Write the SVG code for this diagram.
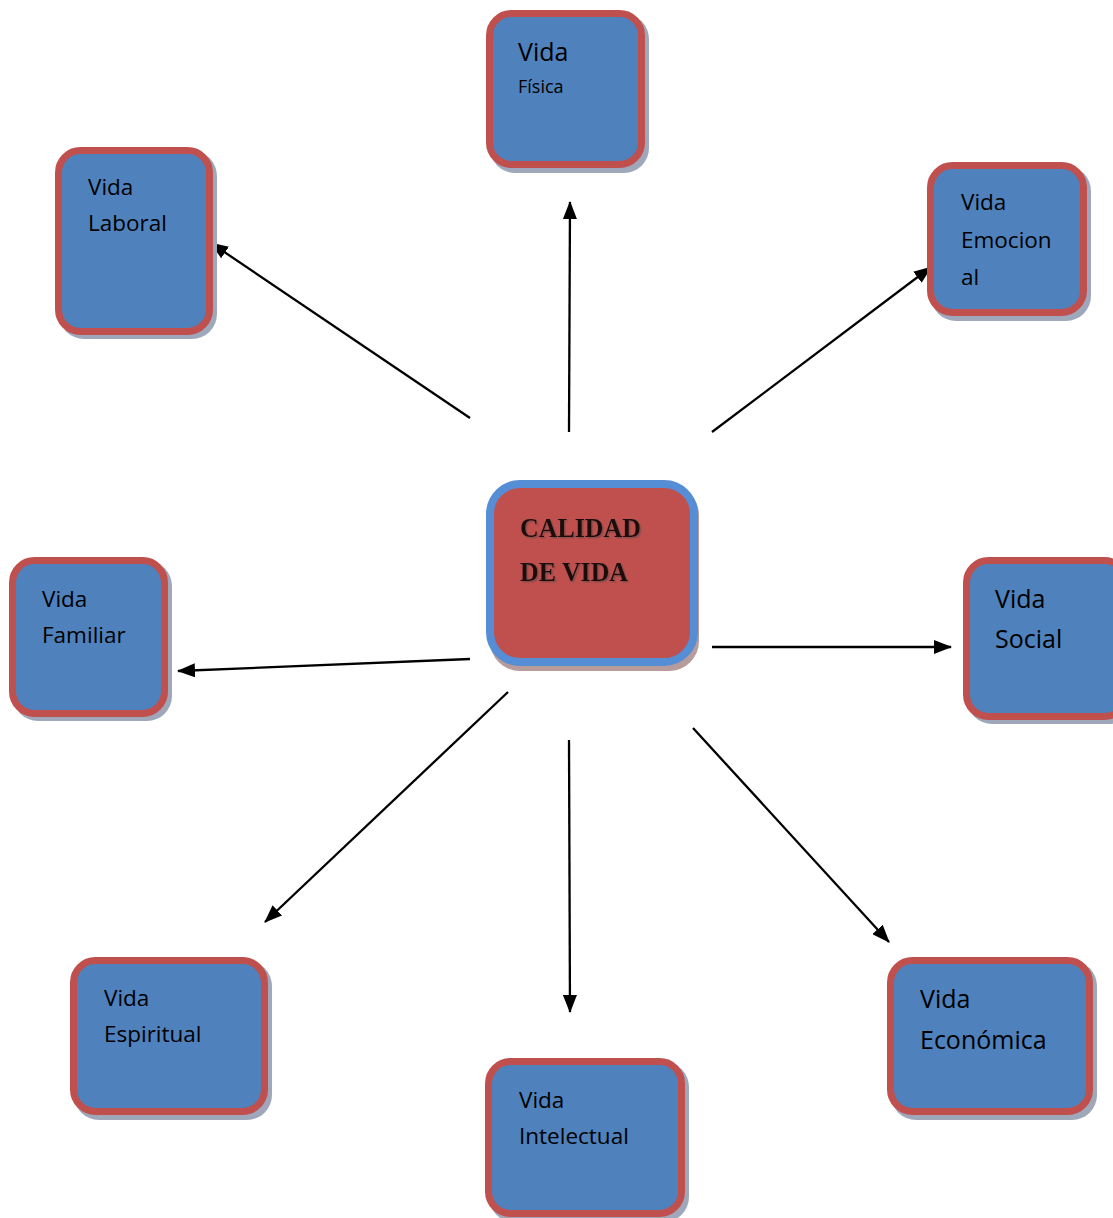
<svg xmlns="http://www.w3.org/2000/svg" width="1113" height="1218" viewBox="0 0 1113 1218">
<defs>
<marker id="ah" markerUnits="userSpaceOnUse" markerWidth="18" markerHeight="14" refX="17" refY="7" orient="auto">
<path d="M0,0 L18,7 L0,14 Z" fill="#000"/>
</marker>
<filter id="ts" x="-10%" y="-20%" width="130%" height="150%">
<feDropShadow dx="1.5" dy="1.5" stdDeviation="0.6" flood-color="#7a4a48" flood-opacity="0.8"/>
</filter>
</defs>
<style>
.sh{fill:#9ea8ba}
.box{fill:#4f81bd;stroke:#c0504d;stroke-width:7}
.t{font-family:"Open Sans","Noto Sans",sans-serif;font-size:22.5px;fill:#000}
.big{font-size:25px}
.small{font-size:18px}
.c{font-family:"Liberation Serif","DejaVu Serif",serif;font-weight:bold;font-size:28px;fill:#1a1010}
.con{stroke:#000;stroke-width:2.3;fill:none;marker-end:url(#ah)}
</style>
<rect width="1113" height="1218" fill="#fff"/>

<g id="connectors">
<line class="con" x1="569" y1="432" x2="570" y2="202"/>
<line class="con" x1="470" y1="418" x2="211" y2="243"/>
<line class="con" x1="712" y1="432" x2="931" y2="267"/>
<line class="con" x1="470" y1="659" x2="178" y2="671"/>
<line class="con" x1="712" y1="647" x2="951" y2="647"/>
<line class="con" x1="508" y1="692" x2="265" y2="922"/>
<line class="con" x1="569" y1="740" x2="570" y2="1012"/>
<line class="con" x1="693" y1="728" x2="889" y2="942"/>
</g>

<g id="center">
<rect x="490" y="485" width="209" height="186" rx="30" fill="#b89c9c"/>
<rect x="490" y="484" width="204" height="178" rx="30" fill="#c0504d" stroke="#558ed5" stroke-width="8"/>
<text class="c" x="520" y="537" filter="url(#ts)" textLength="121" lengthAdjust="spacingAndGlyphs">CALIDAD</text>
<text class="c" x="520" y="581" filter="url(#ts)" textLength="108" lengthAdjust="spacingAndGlyphs">DE VIDA</text>
</g>

<g id="fisica">
<rect class="sh" x="490" y="14" width="159" height="159" rx="25"/>
<rect class="box" x="489.5" y="13.5" width="152" height="151" rx="22"/>
<text class="t big" x="518" y="61">Vida</text>
<text class="t small" x="518" y="93">Física</text>
</g>

<g id="laboral">
<rect class="sh" x="59" y="151" width="158" height="188" rx="25"/>
<rect class="box" x="58.5" y="150.5" width="151" height="181" rx="22"/>
<text class="t" x="88" y="195">Vida</text>
<text class="t" x="88" y="231">Laboral</text>
</g>

<g id="emocional">
<rect class="sh" x="931" y="166" width="160" height="155" rx="25"/>
<rect class="box" x="930.5" y="165.5" width="153" height="147" rx="22"/>
<text class="t" x="961" y="210">Vida</text>
<text class="t" x="961" y="248">Emocion</text>
<text class="t" x="961" y="285">al</text>
</g>

<g id="social">
<rect class="sh" x="967" y="561" width="167" height="163" rx="25"/>
<rect class="box" x="966.5" y="560.5" width="160" height="156" rx="22"/>
<text class="t big" x="995" y="608">Vida</text>
<text class="t big" x="995" y="648">Social</text>
</g>

<g id="familiar">
<rect class="sh" x="13" y="561" width="159" height="160" rx="25"/>
<rect class="box" x="12.5" y="560.5" width="152" height="153" rx="22"/>
<text class="t" x="42" y="607">Vida</text>
<text class="t" x="42" y="643">Familiar</text>
</g>

<g id="espiritual">
<rect class="sh" x="74" y="961" width="198" height="159" rx="25"/>
<rect class="box" x="73.5" y="960.5" width="191" height="151" rx="22"/>
<text class="t" x="104" y="1006">Vida</text>
<text class="t" x="104" y="1042">Espiritual</text>
</g>

<g id="intelectual">
<rect class="sh" x="489" y="1062" width="200" height="160" rx="25"/>
<rect class="box" x="488.5" y="1061.5" width="193" height="152" rx="22"/>
<text class="t" x="519" y="1108">Vida</text>
<text class="t" x="519" y="1144">Intelectual</text>
</g>

<g id="economica">
<rect class="sh" x="891" y="961" width="206" height="159" rx="25"/>
<rect class="box" x="890.5" y="960.5" width="199" height="151" rx="22"/>
<text class="t big" x="920" y="1008">Vida</text>
<text class="t big" x="920" y="1049">Económica</text>
</g>
</svg>
